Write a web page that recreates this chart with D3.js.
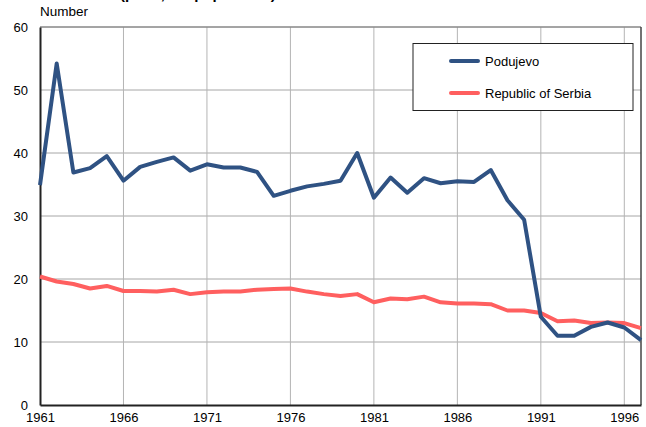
<!DOCTYPE html>
<html><head><meta charset="utf-8">
<script src="https://cdn.jsdelivr.net/npm/d3@7"></script>
<style>body{margin:0;background:#fff}svg{display:block;font-family:"Liberation Sans",Arial,sans-serif}</style>
</head><body><svg id="c" width="646" height="427"></svg>
<script>
const years = d3.range(1961, 1998);
const podujevo = [34.9,54.2,36.9,37.6,39.5,35.6,37.8,38.6,39.3,37.2,38.2,37.7,37.7,37.0,33.2,34.0,34.7,35.1,35.6,40.0,32.9,36.1,33.7,36.0,35.2,35.5,35.4,37.3,32.5,29.4,14.0,11.0,11.0,12.4,13.1,12.3,10.3];
const serbia = [20.4,19.6,19.2,18.5,18.9,18.1,18.1,18.0,18.3,17.6,17.9,18.0,18.0,18.3,18.4,18.5,18.0,17.6,17.3,17.6,16.3,16.9,16.8,17.2,16.3,16.1,16.1,16.0,15.0,15.0,14.6,13.3,13.4,13.0,13.1,13.0,12.2];
const xTicks = [1961,1966,1971,1976,1981,1986,1991,1996];
const yTicks = [0,10,20,30,40,50,60];
const seriesNames = ["Podujevo","Republic of Serbia"];
const colors = ["#2f5283","#ff5f5f"];

const svg = d3.select("#c");
const L=40,R=641,T=27,B=405;
const x = d3.scaleLinear().domain([1961,1997]).range([L,R]);
const y = d3.scaleLinear().domain([0,60]).range([B,T]);

// title (mostly cut off at top, as in the reference)
svg.append("text").attr("x",40).attr("y",-1).attr("font-size",15).attr("font-weight","bold").attr("fill","#000").text("Live births (per 1,000 population)");
svg.append("text").attr("x",40).attr("y",16).attr("font-size",13.5).attr("fill","#000").text("Number");

// gridlines
svg.append("g").selectAll("line").data(yTicks.filter(d=>d>0)).join("line")
  .attr("x1",L).attr("x2",R).attr("y1",d=>y(d)).attr("y2",d=>y(d)).attr("stroke","#a6a6a6").attr("stroke-width",1);
svg.append("g").selectAll("line").data(xTicks.filter(d=>d>1961)).join("line")
  .attr("x1",d=>x(d)).attr("x2",d=>x(d)).attr("y1",T).attr("y2",B).attr("stroke","#b4b4b4").attr("stroke-width",1);

// border
svg.append("line").attr("x1",L).attr("x2",R).attr("y1",T).attr("y2",T).attr("stroke","#777");
svg.append("line").attr("x1",R).attr("x2",R).attr("y1",T).attr("y2",B).attr("stroke","#444").attr("stroke-width",1.5);

// axes
const yAxis = d3.axisLeft(y).tickValues(yTicks).tickSize(0).tickPadding(12);
const gy = svg.append("g").attr("transform",`translate(${L},0)`).call(yAxis);
gy.select(".domain").attr("stroke","#222").attr("stroke-width",2);
gy.selectAll("text").attr("font-size",13).attr("fill","#000").attr("font-family","Liberation Sans, Arial, sans-serif");
const xAxis = d3.axisBottom(x).tickValues(xTicks).tickFormat(d3.format("d")).tickSize(0).tickPadding(8);
const gx = svg.append("g").attr("transform",`translate(0,${B})`).call(xAxis);
gx.select(".domain").attr("stroke","#222").attr("stroke-width",2);
gx.selectAll("text").attr("font-size",13).attr("fill","#000").attr("font-family","Liberation Sans, Arial, sans-serif");

// lines
const line = d3.line().x((d,i)=>x(years[i])).y(d=>y(d));
[serbia, podujevo].forEach((s,k)=>{
  const c = k===0 ? colors[1] : colors[0];
  svg.append("path").datum(s).attr("d",line).attr("fill","none").attr("stroke",c).attr("stroke-width",4).attr("stroke-linejoin","round");
});

// legend
const lg = svg.append("g");
lg.append("rect").attr("x",413).attr("y",43.5).attr("width",220).attr("height",67).attr("fill","#fff").attr("stroke","#222").attr("stroke-width",1);
seriesNames.forEach((n,i)=>{
  const yy = 61 + i*32;
  lg.append("line").attr("x1",451).attr("x2",478).attr("y1",yy).attr("y2",yy).attr("stroke",colors[i]).attr("stroke-width",4).attr("stroke-linecap","round");
  lg.append("text").attr("x",485).attr("y",yy+5).attr("font-size",13).attr("fill","#000").text(n);
});
</script></body></html>
